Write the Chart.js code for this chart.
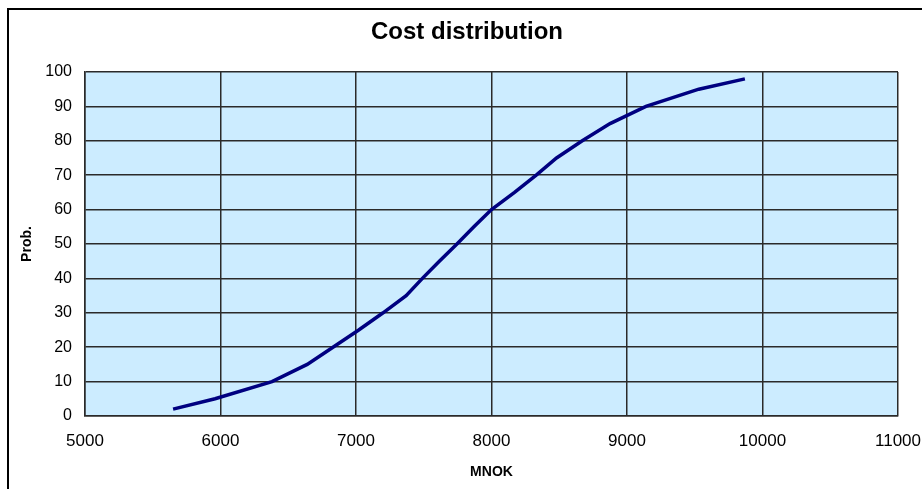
<!DOCTYPE html>
<html>
<head>
<meta charset="utf-8">
<title>Cost distribution</title>
<script src="https://cdn.jsdelivr.net/npm/chart.js@4/dist/chart.umd.min.js"></script>
<style>
  html, body { margin: 0; padding: 0; background: #ffffff; }
  #wrap { position: relative; width: 922px; height: 489px; }
</style>
</head>
<body>
<div id="wrap"><canvas id="chart" width="922" height="489"></canvas></div>
<script>
// Cumulative probability (%) against total cost (MNOK)
const costMNOK = [5650, 5960, 6380, 6640, 6830, 7020, 7200, 7370, 7490, 7615, 7745, 7870, 8000, 8170, 8330, 8480, 8670, 8875, 9140, 9530, 9870];
const probPct  = [2, 5, 10, 15, 20, 25, 30, 35, 40, 45, 50, 55, 60, 65, 70, 75, 80, 85, 90, 95, 98];

const xTicks = [5000, 6000, 7000, 8000, 9000, 10000, 11000];
const yTicks = [0, 10, 20, 30, 40, 50, 60, 70, 80, 90, 100];

const chartTitle = 'Cost distribution';
const xTitle = 'MNOK';
const yTitle = 'Prob.';

const points = costMNOK.map((c, i) => ({ x: c, y: probPct[i] }));

const FONT = "'Liberation Sans', Arial, sans-serif";

// Light blue plot area plus the outer frame of the chart object
const framePlugin = {
  id: 'frame',
  beforeDraw(chart) {
    const { ctx, chartArea: a } = chart;
    ctx.save();
    ctx.fillStyle = '#ffffff';
    ctx.fillRect(0, 0, chart.width, chart.height);
    ctx.fillStyle = '#CCECFF';
    ctx.fillRect(a.left, a.top, a.right - a.left, a.bottom - a.top);
    ctx.strokeStyle = '#000000';
    ctx.lineWidth = 2;
    ctx.strokeRect(8, 9, chart.width + 20, chart.height + 20);
    ctx.restore();
  }
};

new Chart(document.getElementById('chart'), {
  type: 'scatter',
  data: {
    datasets: [{
      data: points,
      showLine: true,
      borderColor: '#000080',
      borderWidth: 3.5,
      pointRadius: 0,
      pointHoverRadius: 0,
      tension: 0,
      fill: false
    }]
  },
  options: {
    responsive: false,
    animation: false,
    layout: { padding: { left: 12, right: 0, top: 0, bottom: 0 } },
    plugins: {
      legend: { display: false },
      tooltip: { enabled: false },
      title: {
        display: true,
        text: chartTitle,
        color: '#000000',
        font: { family: FONT, size: 24, weight: 'bold' },
        padding: { top: 18, bottom: 25.2 }
      }
    },
    scales: {
      x: {
        type: 'linear',
        min: xTicks[0],
        max: xTicks[xTicks.length - 1],
        afterBuildTicks(scale) { scale.ticks = xTicks.map(v => ({ value: v })); },
        afterFit(scale) {
          scale.height = 73;
          scale.paddingLeft = 0;
          scale.paddingRight = 24;
        },
        ticks: {
          color: '#000000',
          font: { family: FONT, size: 17 },
          padding: 15,
          maxRotation: 0,
          autoSkip: false,
          callback: v => String(v)
        },
        grid: { color: '#2a2a2a', lineWidth: 1.5, drawTicks: false },
        border: { display: true, color: '#2a2a2a', width: 1.5 },
        title: {
          display: true,
          text: xTitle,
          color: '#000000',
          font: { family: FONT, size: 14, weight: 'bold' },
          padding: { top: 0, bottom: 8 }
        }
      },
      y: {
        type: 'linear',
        min: yTicks[0],
        max: yTicks[yTicks.length - 1],
        afterBuildTicks(scale) { scale.ticks = yTicks.map(v => ({ value: v })); },
        afterFit(scale) {
          scale.width = 73;
          scale.paddingTop = 0; scale.paddingBottom = 0;
        },
        ticks: {
          color: '#000000',
          font: { family: FONT, size: 16 },
          padding: 13,
          callback: v => String(v)
        },
        grid: { color: '#2a2a2a', lineWidth: 1.5, drawTicks: false },
        border: { display: true, color: '#2a2a2a', width: 1.5 },
        title: {
          display: true,
          text: yTitle,
          color: '#000000',
          font: { family: FONT, size: 14, weight: 'bold' },
          padding: { top: 7, bottom: 0 }
        }
      }
    }
  },
  plugins: [framePlugin]
});
</script>
</body>
</html>
